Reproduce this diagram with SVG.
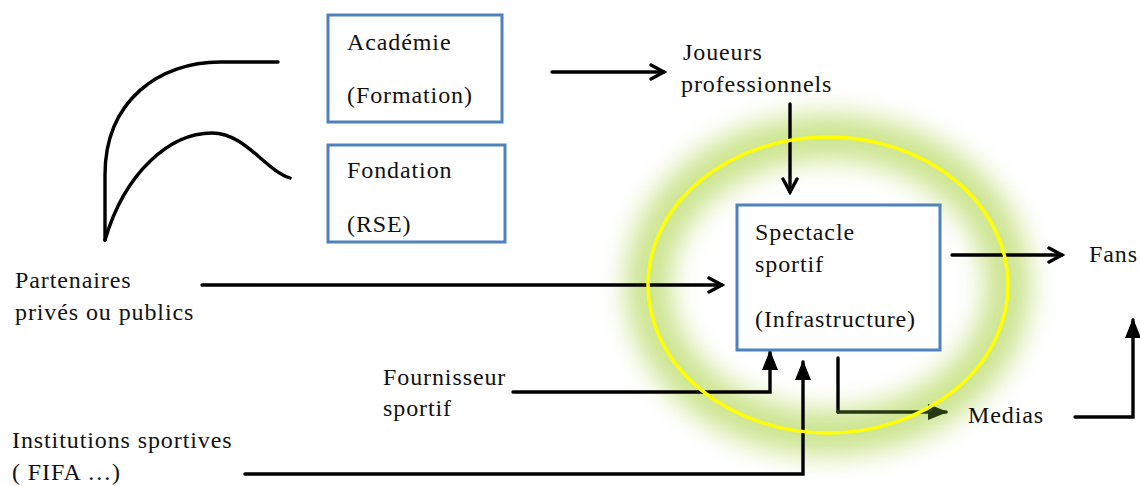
<svg xmlns="http://www.w3.org/2000/svg" width="1140" height="486" viewBox="0 0 1140 486">
<defs>
<style>
.t{font-family:'Liberation Serif','Times New Roman',serif;font-size:24px;letter-spacing:0.9px;fill:#111}
.box{fill:#fff;stroke:#4f81bd;stroke-width:3}
</style>
<marker id="open" viewBox="0 0 20 20" refX="17" refY="10" markerWidth="20" markerHeight="20" markerUnits="userSpaceOnUse" orient="auto">
<path d="M4,3 L17,10 L4,17" fill="none" stroke="#000" stroke-width="3.4" stroke-linecap="round"/>
</marker>
<marker id="fill" viewBox="0 0 20 20" refX="18" refY="10" markerWidth="20" markerHeight="20" markerUnits="userSpaceOnUse" orient="auto">
<path d="M0,2 L20,10 L0,18 Z" fill="#000"/>
</marker>
<marker id="fillg" viewBox="0 0 20 20" refX="18" refY="10" markerWidth="20" markerHeight="20" markerUnits="userSpaceOnUse" orient="auto">
<path d="M0,2 L20,10 L0,18 Z" fill="#263a12"/>
</marker>
<filter id="glow" x="-40%" y="-40%" width="180%" height="180%">
<feGaussianBlur stdDeviation="13"/>
</filter>
</defs>
<rect width="1140" height="486" fill="#fff"/>
<g id="highlight">
<ellipse cx="828" cy="285" rx="180" ry="148" fill="none" stroke="#bcdc6a" stroke-width="46" opacity="0.75" filter="url(#glow)"/>
</g>
<g id="connectors" fill="none" stroke="#000" stroke-width="3.4" stroke-linecap="round">
<path d="M105,240 L105,175 C105,100 160,62 220,62 L278,62"/>
<path d="M105,240 C125,172 170,133 212,133 C245,133 265,170 290,178"/>
<path d="M552,72 L664,72" marker-end="url(#open)"/>
<path d="M790,104 L790,192" marker-end="url(#open)"/>
<path d="M202,285 L722,285" marker-end="url(#open)"/>
<path d="M952,255 L1062,255" marker-end="url(#open)"/>
<path d="M513,392 L770,392 L770,352" marker-end="url(#fill)"/>
<path d="M245,474 L803,474 L803,362" marker-end="url(#fill)"/>
<path d="M838,358 L838,412"/>
<path d="M838,412 L946,412" stroke="#263a12" marker-end="url(#fillg)"/>
<path d="M1075,417 L1133,417 L1133,320" marker-end="url(#fill)"/>
</g>
<g id="ring">
<ellipse cx="828" cy="285" rx="180" ry="148" fill="none" stroke="#ffff00" stroke-width="3.5"/>
</g>
<g id="academie" font-family="Liberation Serif">
<rect class="box" x="328" y="15" width="174" height="107"/>
<text class="t" x="347" y="50">Académie</text>
<text class="t" x="347" y="103">(Formation)</text>
</g>
<g id="fondation" font-family="Liberation Serif">
<rect class="box" x="328" y="145" width="177" height="97"/>
<text class="t" x="347" y="178">Fondation</text>
<text class="t" x="347" y="232">(RSE)</text>
</g>
<g id="spectacle" font-family="Liberation Serif">
<rect class="box" x="737" y="205" width="203" height="145"/>
<text class="t" x="755" y="240">Spectacle</text>
<text class="t" x="755" y="272">sportif</text>
<text class="t" x="755" y="327">(Infrastructure)</text>
</g>
<g id="joueurs" font-family="Liberation Serif">
<text class="t" x="683" y="60">Joueurs</text>
<text class="t" x="681" y="92">professionnels</text>
</g>
<g id="fans" font-family="Liberation Serif"><text class="t" x="1089" y="262">Fans</text></g>
<g id="partenaires" font-family="Liberation Serif">
<text class="t" x="15" y="288">Partenaires</text>
<text class="t" x="15" y="320">privés ou publics</text>
</g>
<g id="fournisseur" font-family="Liberation Serif">
<text class="t" x="383" y="385">Fournisseur</text>
<text class="t" x="383" y="416">sportif</text>
</g>
<g id="institutions" font-family="Liberation Serif">
<text class="t" x="12" y="448">Institutions sportives</text>
<text class="t" x="12" y="480">( FIFA …)</text>
</g>
<g id="medias" font-family="Liberation Serif"><text class="t" x="968" y="423">Medias</text></g>
</svg>
